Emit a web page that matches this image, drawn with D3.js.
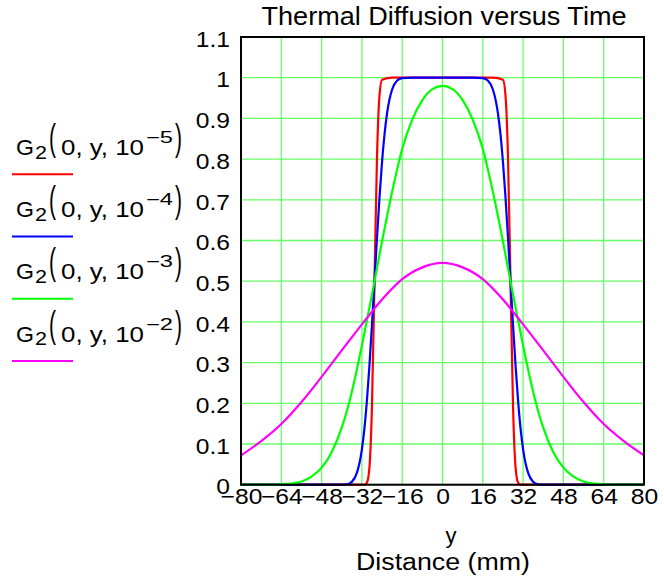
<!DOCTYPE html>
<html>
<head>
<meta charset="utf-8">
<script src="https://d3js.org/d3.v7.min.js"></script>
<style>
  body { margin: 0; background: #fff; }
  text { font-family: "Liberation Sans", Arial, sans-serif; fill: #000; }
</style>
</head>
<body>
<div id="viz"></div>
<script>
// values
var xTicks = [-80, -64, -48, -32, -16, 0, 16, 32, 48, 64, 80];
var yTicks = [0, 0.1, 0.2, 0.3, 0.4, 0.5, 0.6, 0.7, 0.8, 0.9, 1, 1.1];
var yTickLabels = ["0", "0.1", "0.2", "0.3", "0.4", "0.5", "0.6", "0.7", "0.8", "0.9", "1", "1.1"];
var seriesExp = ["\u22125", "\u22124", "\u22123", "\u22122"];   // t = 10^exp
var seriesColors = ["#ff0000", "#0000ff", "#00ff00", "#ff00ff"];

// t = 1e-5
var redY = [-80, -31, -30, -29, -28, -27, -26, -25, -24, -20, 0, 20, 24, 25, 26, 27, 28, 29, 30, 31, 80];
var redG = [0, 0, 0.005, 0.043, 0.194, 0.5, 0.806, 0.957, 0.995, 1, 1, 1, 0.995, 0.957, 0.806, 0.5, 0.194, 0.043, 0.005, 0, 0];

// t = 1e-4
var blueY = [-80, -40, -38, -36, -34, -33, -32, -31, -30, -29, -28, -27, -26, -25, -24, -23, -22, -21, -20, -18,
             -16, -12, 0, 12, 16, 18, 20, 21, 22, 23, 24, 25, 26, 27, 28, 29, 30, 31, 32, 33, 34, 36, 38, 40, 80];
var blueG = [0, 0, 0.001, 0.007, 0.029, 0.052, 0.087, 0.138, 0.207, 0.293, 0.393, 0.5, 0.607, 0.707, 0.793, 0.862, 0.913, 0.948, 0.971, 0.993,
             0.999, 1, 1, 1, 0.999, 0.993, 0.971, 0.948, 0.913, 0.862, 0.793, 0.707, 0.607, 0.5, 0.393, 0.293, 0.207, 0.138, 0.087, 0.052, 0.029, 0.007, 0.001, 0, 0];

// t = 1e-3
var greenY = [-80, -76, -72, -68, -64, -60, -56, -52, -48, -44, -40, -36, -32, -28, -24, -20, -16, -12, -8, -4, 0,
              4, 8, 12, 16, 20, 24, 28, 32, 36, 40, 44, 48, 52, 56, 60, 64, 68, 72, 76, 80];
var greenG = [0, 0, 0, 0, 0.001, 0.003, 0.008, 0.02, 0.042, 0.08, 0.14, 0.228, 0.342, 0.467, 0.598, 0.72, 0.825, 0.897, 0.945, 0.972, 0.98,
              0.972, 0.945, 0.897, 0.825, 0.72, 0.598, 0.467, 0.342, 0.228, 0.14, 0.08, 0.042, 0.02, 0.008, 0.003, 0.001, 0, 0, 0, 0];

// t = 1e-2
var magY = [-80, -72, -64, -56, -48, -40, -32, -24, -16, -8, 0, 8, 16, 24, 32, 40, 48, 56, 64, 72, 80];
var magG = [0.072, 0.107, 0.149, 0.203, 0.265, 0.33, 0.394, 0.455, 0.505, 0.534, 0.545, 0.534, 0.505, 0.455, 0.394, 0.33, 0.265, 0.203, 0.149, 0.107, 0.072];

var allY = [redY, blueY, greenY, magY];
var allG = [redG, blueG, greenG, magG];

var svg = d3.select("#viz").append("svg")
  .attr("width", 664).attr("height", 577);

var x = d3.scaleLinear().domain([-80, 80]).range([241, 644]);
var y = d3.scaleLinear().domain([0, 1.1]).range([484.7, 37]);

// grid
svg.append("g").selectAll("line").data(xTicks).enter().append("line")
  .attr("x1", function(d) { return x(d); }).attr("x2", function(d) { return x(d); })
  .attr("y1", y(0)).attr("y2", y(1.1))
  .style("stroke", "#66ff66").style("stroke-width", 1.3);
svg.append("g").selectAll("line").data(yTicks).enter().append("line")
  .attr("x1", x(-80)).attr("x2", x(80))
  .attr("y1", function(d) { return y(d); }).attr("y2", function(d) { return y(d); })
  .style("stroke", "#66ff66").style("stroke-width", 1.3);

// traces
var line = d3.line().curve(d3.curveMonotoneX)
  .x(function(d) { return x(d[0]); })
  .y(function(d) { return y(d[1]); });

allY.forEach(function(ys, i) {
  var pts = ys.map(function(v, j) { return [v, allG[i][j]]; });
  svg.append("path").datum(pts)
    .attr("d", line)
    .style("fill", "none")
    .style("stroke", seriesColors[i])
    .style("stroke-width", 2.2);
});

// frame
svg.append("rect")
  .attr("x", x(-80)).attr("y", y(1.1))
  .attr("width", x(80) - x(-80)).attr("height", y(0) - y(1.1))
  .style("fill", "none").style("stroke", "#000").style("stroke-width", 2);

// axes
var xAxis = svg.append("g").attr("transform", "translate(0," + y(0) + ")")
  .call(d3.axisBottom(x).tickValues(xTicks).tickSize(0).tickPadding(4));
xAxis.select(".domain").remove();
xAxis.selectAll("text").style("font-size", "22px").style("font-family", "Liberation Sans, Arial, sans-serif")
  .attr("transform", "scale(1.12,1)");

var yAxis = svg.append("g").attr("transform", "translate(" + x(-80) + ",0)")
  .call(d3.axisLeft(y).tickValues(yTicks).tickSize(0).tickPadding(9.8)
    .tickFormat(function(d, i) { return yTickLabels[i]; }));
yAxis.select(".domain").remove();
yAxis.selectAll("text").style("font-size", "22px").style("font-family", "Liberation Sans, Arial, sans-serif")
  .attr("dy", "0.42em")
  .attr("transform", "scale(1.12,1)");

// titles
svg.append("text").attr("x", 444).attr("y", 25)
  .attr("text-anchor", "middle").style("font-size", "26px")
  .attr("textLength", 365).attr("lengthAdjust", "spacingAndGlyphs")
  .text("Thermal Diffusion versus Time");
svg.append("text").attr("x", 451).attr("y", 543)
  .attr("text-anchor", "middle").style("font-size", "22px")
  .text("y");
svg.append("text").attr("x", 443).attr("y", 570)
  .attr("text-anchor", "middle").style("font-size", "23px")
  .attr("textLength", 174).attr("lengthAdjust", "spacingAndGlyphs")
  .text("Distance (mm)");

// legend
seriesExp.forEach(function(e, i) {
  var b = 155 + i * 62.2;
  var g = svg.append("g");
  g.append("text").attr("x", 16).attr("y", b).style("font-size", "22px")
    .attr("textLength", 18).attr("lengthAdjust", "spacingAndGlyphs").text("G");
  g.append("text").attr("x", 35).attr("y", b + 3.5).style("font-size", "19px")
    .attr("textLength", 12).attr("lengthAdjust", "spacingAndGlyphs").text("2");
  g.append("text").attr("x", 49).attr("y", b - 5).style("font-size", "36px")
    .attr("textLength", 7).attr("lengthAdjust", "spacingAndGlyphs").text("(");
  g.append("text").attr("x", 61).attr("y", b).style("font-size", "22px")
    .attr("textLength", 83).attr("lengthAdjust", "spacingAndGlyphs").text("0, y, 10");
  g.append("text").attr("x", 146).attr("y", b - 12).style("font-size", "16px")
    .attr("textLength", 27).attr("lengthAdjust", "spacingAndGlyphs").text(e);
  g.append("text").attr("x", 175).attr("y", b - 5).style("font-size", "36px")
    .attr("textLength", 7).attr("lengthAdjust", "spacingAndGlyphs").text(")");
  g.append("line").attr("x1", 12).attr("x2", 73).attr("y1", b + 19.3).attr("y2", b + 19.3)
    .style("stroke", seriesColors[i]).style("stroke-width", 2);
});
</script>
</body>
</html>
